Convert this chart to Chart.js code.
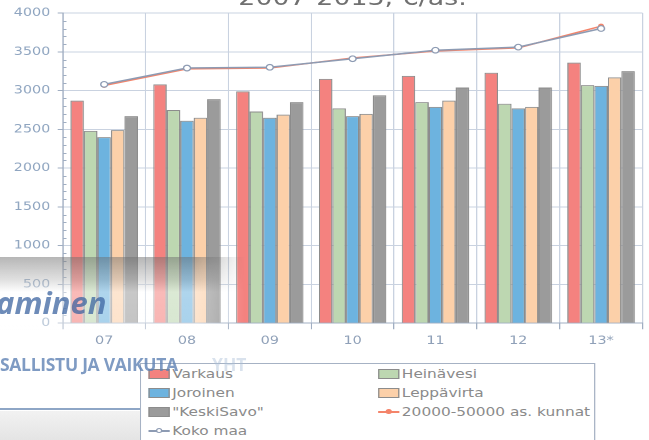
<!DOCTYPE html>
<html>
<head>
<meta charset="utf-8">
<script src="https://cdn.jsdelivr.net/npm/chart.js@4"></script>
<style>
html, body { margin: 0; padding: 0; background: #fff; overflow: hidden }
body { width: 649px; height: 440px; position: relative; font-family: "DejaVu Sans", sans-serif }
#wrap { position: absolute; left: 0; top: 0; width: 520px; height: 440px; transform-origin: 0 0; transform: scaleX(1.248) }
#title { position: absolute; left: 191px; top: -13px; font-size: 21.5px; line-height: 1; color: #707070; white-space: nowrap }
#legend { position: absolute; left: 112px; top: 363px; width: 365px; height: 90px; border: 1px solid #a6b2c4; background: #fff; box-sizing: border-box }
#legend .item { position: absolute; height: 14px; font-size: 12.3px; line-height: 14px; color: #8a8a8a; white-space: nowrap }
#legend .sw { position: absolute; left: 0; top: 2px; width: 17px; height: 10px; box-sizing: border-box; border: 1px solid #8c8c8c }
#legend .ln { position: absolute; left: 0; top: 6px; width: 17px; height: 1.5px }
#legend .dot { position: absolute; left: 6px; top: 4px; width: 5px; height: 5px; border-radius: 50%; box-sizing: border-box }
#legend .txt { position: absolute; left: 19px; top: 0 }
.ov { position: absolute; pointer-events: none }
</style>
</head>
<body>
<div id="wrap">
    <canvas id="chart1" width="520" height="440"></canvas>
    <div id="title">2007-2013, €/as.</div>
    <div id="legend"></div>
</div>

<!-- slide background showing through -->
<div class="ov" style="left:0;top:257px;width:245px;height:78px;
    background:linear-gradient(to bottom, rgba(110,110,110,0.5) 0, rgba(190,190,190,0.45) 30%, rgba(255,255,255,0.45) 45%, rgba(255,255,255,0.4) 100%);
    -webkit-mask-image:linear-gradient(to right, #000 80%, transparent 100%)"></div>
<div class="ov" style="left:-4px;top:281px;font:italic bold 31px 'Open Sans',sans-serif;color:rgba(60,100,160,0.75)">aminen</div>
<div class="ov" style="left:0;top:352px;font:bold 17.5px 'Open Sans',sans-serif;letter-spacing:-0.3px;color:rgba(95,130,180,0.8)">SALLISTU JA VAIKUTA</div>
<div class="ov" style="left:212px;top:352px;font:bold 17.5px 'Open Sans',sans-serif;color:rgba(170,190,215,0.45)">YHT</div>
<div class="ov" style="left:0;top:408px;width:140px;height:2px;background:#8ea6c6"></div>
<div class="ov" style="left:0;top:411px;width:140px;height:29px;background:linear-gradient(to bottom, #f2f2f2, #e4e4e4)"></div>

<script>
const years = ["07", "08", "09", "10", "11", "12", "13*"]

const varkaus    = [2870, 3080, 2990, 3150, 3190, 3230, 3360]
const heinavesi  = [2480, 2750, 2730, 2770, 2850, 2830, 3070]
const joroinen   = [2400, 2610, 2650, 2670, 2790, 2770, 3060]
const leppavirta = [2490, 2650, 2690, 2700, 2870, 2790, 3170]
const keskiSavo  = [2670, 2890, 2850, 2940, 3040, 3040, 3250]
const kunnat     = [3065, 3280, 3290, 3420, 3510, 3550, 3830]
const kokoMaa    = [3080, 3290, 3300, 3410, 3520, 3560, 3800]

const yTicks = [0, 500, 1000, 1500, 2000, 2500, 3000, 3500, 4000]

const gridColor = '#c9d2e0'
const axisColor = '#a0aec2'
const tickFont = { family: 'DejaVu Sans', size: 11.5 }

function bars(label, data, color) {
    return { type: 'bar', label: label, data: data, backgroundColor: color,
             borderColor: '#8c8c8c', borderWidth: 1, order: 3,
             categoryPercentage: 0.815, barPercentage: 1.0 }
}

// small ticks every 100 on the y axis
const minorTicks = {
    id: 'minorTicks',
    beforeDatasetsDraw(chart) {
        const y = chart.scales.y, ctx = chart.ctx
        ctx.save()
        ctx.strokeStyle = axisColor
        ctx.lineWidth = 1
        for (let v = 100; v < 4000; v += 100) {
            if (v % 500 == 0) continue
            const py = Math.round(y.getPixelForValue(v)) + 0.5
            ctx.beginPath()
            ctx.moveTo(y.right, py)
            ctx.lineTo(y.right + 3, py)
            ctx.stroke()
        }
        ctx.restore()
    }
}

const chart = new Chart(document.getElementById('chart1').getContext('2d'), {
    data: {
        labels: years,
        datasets: [
            bars('Varkaus', varkaus, '#f4827f'),
            bars('Heinävesi', heinavesi, '#bdd7b1'),
            bars('Joroinen', joroinen, '#6db3df'),
            bars('Leppävirta', leppavirta, '#fcd0a9'),
            bars('"KeskiSavo"', keskiSavo, '#9b9b9b'),
            { type: 'line', label: '20000-50000 as. kunnat', data: kunnat,
              borderColor: '#f4846a', backgroundColor: '#f4846a', borderWidth: 1.5,
              pointRadius: 2.5, pointBorderWidth: 0, order: 2 },
            { type: 'line', label: 'Koko maa', data: kokoMaa,
              borderColor: '#8d9bb3', backgroundColor: '#fff', borderWidth: 1.5,
              pointRadius: 2.8, pointBorderWidth: 1.2, pointBorderColor: '#8d9bb3', order: 1 },
        ]
    },
    options: {
        responsive: false,
        devicePixelRatio: 2,
        animation: { duration: 0 },
        layout: { padding: { top: 13, left: 5, right: 1.5, bottom: 87 } },
        plugins: { legend: { display: false }, title: { display: false }, tooltip: { enabled: false } },
        scales: {
            x: {
                grid: { offset: true, color: gridColor, tickColor: axisColor, tickLength: 6 },
                border: { color: axisColor },
                ticks: { color: '#8fa0b8', font: tickFont, padding: 5, maxRotation: 0 }
            },
            y: {
                min: 0, max: 4000,
                afterBuildTicks: (s) => { s.ticks = yTicks.map(v => ({ value: v })) },
                grid: { color: gridColor, tickColor: axisColor, tickLength: 4 },
                border: { color: axisColor },
                ticks: { color: '#8fa5c0', font: tickFont, padding: 6, callback: (v) => String(v) }
            }
        }
    },
    plugins: [minorTicks]
})

// legend in two columns, like the original
function buildLegend(chart) {
    const box = document.getElementById('legend')
    chart.data.datasets.forEach((ds, i) => {
        const item = document.createElement('div')
        item.className = 'item'
        item.style.left = (i % 2 ? 190 : 6) + 'px'
        item.style.top = (3 + Math.floor(i / 2) * 19) + 'px'
        let mark
        if (ds.type == 'bar') {
            mark = '<span class="sw" style="background:' + ds.backgroundColor + '"></span>'
        } else {
            mark = '<span class="ln" style="background:' + ds.borderColor + '"></span>'
                 + '<span class="dot" style="background:' + ds.backgroundColor
                 + ';border:1px solid ' + ds.borderColor + '"></span>'
        }
        item.innerHTML = mark + '<span class="txt">' + ds.label + '</span>'
        box.appendChild(item)
    })
}
buildLegend(chart)
</script>
</body>
</html>
